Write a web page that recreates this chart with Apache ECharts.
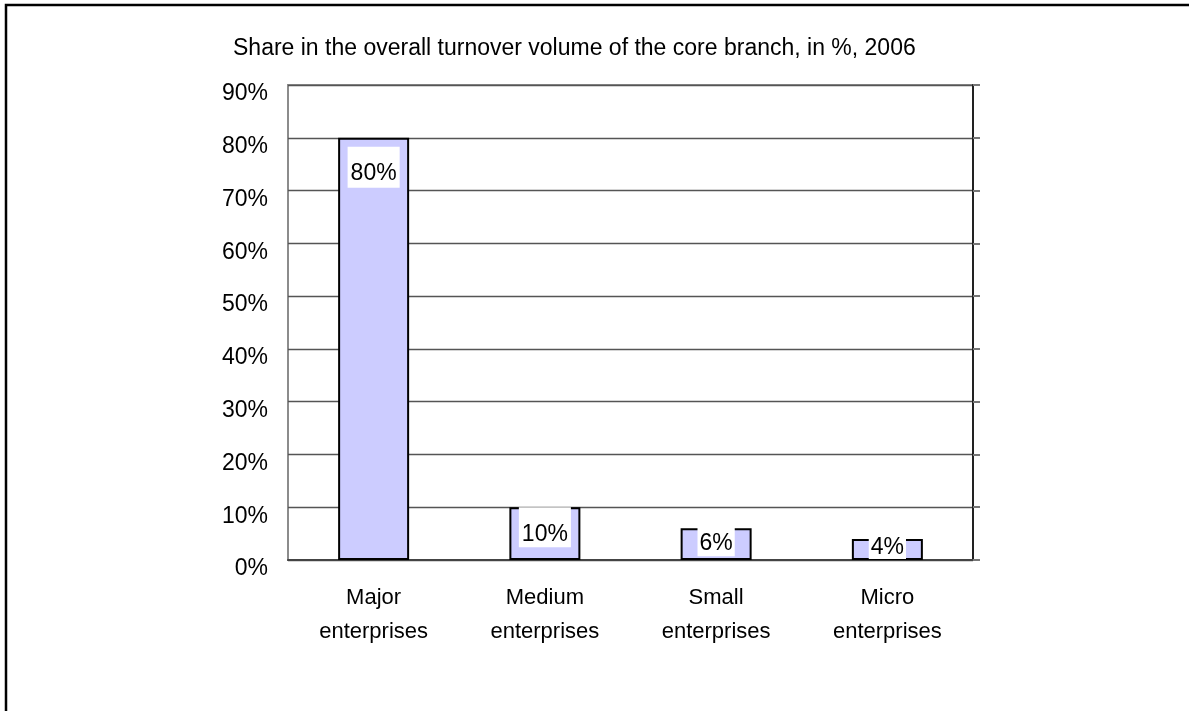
<!DOCTYPE html>
<html>
<head>
<meta charset="utf-8">
<style>
  html, body { margin: 0; padding: 0; background: #fff; }
  #chart { width: 1189px; height: 711px; }
</style>
<script src="https://cdn.jsdelivr.net/npm/echarts@6/dist/echarts.min.js"></script>
</head>
<body>
<div id="chart"></div>
<script>
// Share of turnover by enterprise size class, 2006
const titleText = 'Share in the overall turnover volume of the core branch, in %, 2006';
const categories = ['Major\nenterprises', 'Medium\nenterprises', 'Small\nenterprises', 'Micro\nenterprises'];
const shares = [80, 10, 6, 4];

// Per-bar placement of the value boxes (short bars push the box up against the baseline)
const labelLayout = [
  { offset: [0, 9],  padding: [17, 3, 4, 3] },
  { offset: [0, 0],  padding: [17, 3, 3, 3] },
  { offset: [0, -1], padding: [6, 2, 3, 2] },
  { offset: [0, -3], padding: [2, 2, 1, 2] }
];

const FONT = 'Arial, "Liberation Sans", Helvetica, sans-serif';
const chart = echarts.init(document.getElementById('chart'), null, { renderer: 'canvas' });

chart.setOption({
  backgroundColor: '#ffffff',
  animation: false,
  title: {
    text: titleText,
    left: 228,
    top: 32,
    textStyle: { fontFamily: FONT, fontSize: 23, fontWeight: 'normal', color: '#000' }
  },
  graphic: [{
    type: 'rect',
    shape: { x: 6, y: 5, width: 1300, height: 1000 },
    style: { fill: 'none', stroke: '#000', lineWidth: 2.5 },
    silent: true
  }],
  grid: {
    left: 288, right: 216, top: 85, bottom: 151,
    show: true,
    borderColor: '#8c8c8c',
    borderWidth: 2
  },
  xAxis: {
    type: 'category',
    data: categories,
    axisLine: { show: true, lineStyle: { color: '#444', width: 2 } },
    axisTick: { show: false },
    axisLabel: {
      fontFamily: FONT, fontSize: 22, color: '#000',
      lineHeight: 34, margin: 21, interval: 0
    }
  },
  yAxis: [{
    type: 'value',
    min: 0, max: 90, interval: 10,
    axisLine: { show: false },
    axisTick: { show: false },
    splitLine: { show: true, lineStyle: { color: '#555', width: 1.3 } },
    axisLabel: {
      formatter: '{value}%',
      fontFamily: FONT, fontSize: 23, color: '#000',
      margin: 20, verticalAlign: 'top', lineHeight: 18
    }
  }, {
    type: 'value',
    position: 'right',
    min: 0, max: 90, interval: 10,
    axisLine: { show: true, lineStyle: { color: '#222', width: 2 } },
    axisTick: { show: true, inside: false, length: 7, lineStyle: { color: '#777', width: 2 } },
    splitLine: { show: false },
    axisLabel: { show: false }
  }],
  series: [{
    type: 'bar',
    yAxisIndex: 0,
    barWidth: 71,
    data: shares.map((v, i) => ({
      value: v,
      label: { offset: labelLayout[i].offset, padding: labelLayout[i].padding }
    })),
    itemStyle: { color: '#ccccff', borderColor: '#000', borderWidth: 2 },
    label: {
      show: true,
      position: 'insideTop',
      distance: 0,
      formatter: '{c}%',
      fontFamily: FONT, fontSize: 23, color: '#000',
      backgroundColor: '#ffffff',
      lineHeight: 20
    }
  }]
});
</script>
</body>
</html>
